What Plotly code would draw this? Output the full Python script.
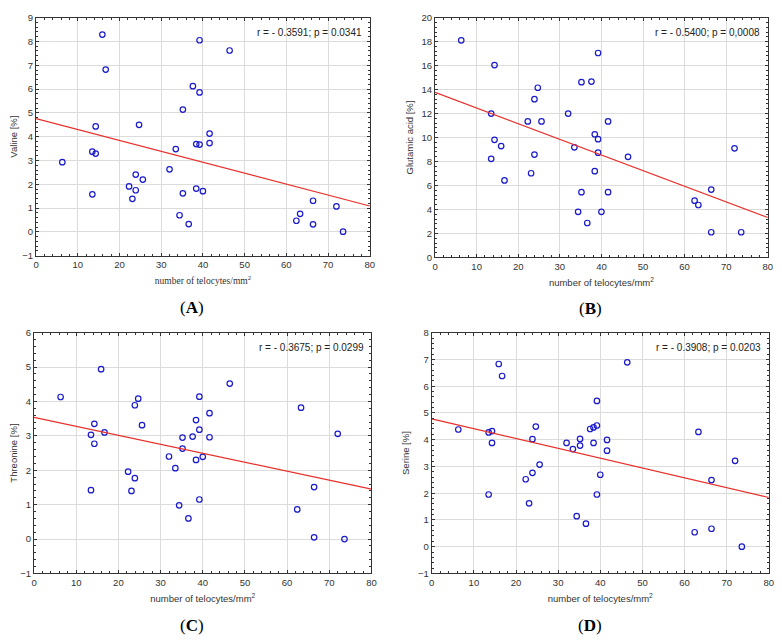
import plotly.graph_objects as go

# shared x values: number of telocytes/mm2
telocytes = [6.3, 13.5, 13.5, 14.3, 14.3, 15.9, 16.7, 22.3, 23.1, 23.9, 23.9, 24.7, 25.6,
             32.0, 33.5, 34.4, 35.2, 35.2, 36.6, 37.6, 38.4, 38.4, 39.2, 39.2, 39.2, 40.0,
             41.6, 41.6, 46.4, 62.4, 63.3, 66.4, 66.4, 72.0, 73.6]

valine = [2.93, 3.37, 1.58, 4.43, 3.29, 8.29, 6.82, 1.91, 1.39, 2.41, 1.75, 4.50, 2.20,
          2.63, 3.48, 0.70, 5.14, 1.62, 0.33, 6.12, 3.69, 1.82, 8.05, 5.86, 3.67, 1.71,
          4.13, 3.73, 7.62, 0.47, 0.76, 1.31, 0.32, 1.07, 0.01]

glutamic = [18.11, 12.0, 8.22, 16.04, 9.81, 9.29, 6.42, 11.34, 7.02, 13.2, 8.58, 14.15, 11.34,
            12.0, 9.18, 3.80, 14.62, 5.44, 2.87, 14.67, 10.27, 7.19, 17.05, 9.86, 8.74, 3.80,
            11.34, 5.44, 8.39, 4.73, 4.37, 5.66, 2.10, 9.10, 2.10]

threonine = [4.13, 3.03, 1.42, 3.35, 2.77, 4.94, 3.10, 1.96, 1.40, 3.89, 1.77, 4.08, 3.31,
             2.40, 2.06, 0.98, 2.95, 2.63, 0.60, 2.98, 3.46, 2.30, 4.14, 3.18, 1.15, 2.39,
             3.66, 2.96, 4.52, 0.86, 3.82, 1.51, 0.05, 3.06, 0.0]

serine = [4.38, 4.27, 1.95, 4.32, 3.88, 6.83, 6.38, 2.52, 1.62, 4.02, 2.76, 4.49, 3.07,
          3.88, 3.65, 1.14, 4.03, 3.78, 0.86, 4.40, 4.46, 3.88, 5.45, 4.53, 1.95, 2.69,
          3.99, 3.59, 6.89, 0.54, 4.29, 2.49, 0.67, 3.21, 0.0]

# regression line endpoints (x = 0 and x = 80)
fit_x = [0, 80]
fit_valine = [4.76, 1.09]
fit_glutamic = [13.77, 3.33]
fit_threonine = [3.54, 1.45]
fit_serine = [4.78, 1.84]

y_titles = ["Valine [%]", "Glutamic acid [%]", "Threonine [%]", "Serine [%]"]
stats = ["r = - 0.3591; p = 0.0341", "r = - 0.5400; p = 0,0008",
         "r = - 0.3675; p = 0.0299", "r = - 0.3908; p = 0.0203"]
panel_labels = ["A", "B", "C", "D"]
y_ranges = [[-1, 9], [0, 20], [-1, 6], [-1, 8]]
y_dticks = [1, 2, 1, 1]

series = [valine, glutamic, threonine, serine]
fits = [fit_valine, fit_glutamic, fit_threonine, fit_serine]

OFF = 8  # page body margin
W, H = 782 - OFF, 643 - OFF
# plot areas in page pixels: (x0, x1, ytop, ybottom)
areas = [(32.3, 370.0, 11.7, 254.0),
         (436.0, 772.7, 11.7, 255.7),
         (30.3, 371.7, 332.3, 577.3),
         (432.7, 773.7, 332.3, 577.3)]
label_pos = [(190, 307), (593, 308), (190, 630), (593, 630)]

fig = go.Figure()
sans = "Liberation Sans, Arial, sans-serif"
serif = "Liberation Serif, Times New Roman, serif"

def fx(px):
    return (px - OFF) / W

def fy(py):
    return 1 - (py - OFF) / H

for i in range(4):
    xa = "x" if i == 0 else f"x{i+1}"
    ya = "y" if i == 0 else f"y{i+1}"
    fig.add_trace(go.Scatter(x=telocytes, y=series[i], mode="markers", xaxis=xa, yaxis=ya,
                             marker=dict(symbol="circle-open", size=5.5, color="#1a1acc",
                                         line=dict(width=1.2, color="#1a1acc")),
                             showlegend=False, cliponaxis=False))
    fig.add_trace(go.Scatter(x=fit_x, y=fits[i], mode="lines", xaxis=xa, yaxis=ya,
                             line=dict(color="#e8302a", width=1.2), showlegend=False))
    x0, x1, yt, yb = areas[i]
    axis_common = dict(showline=True, linecolor="#333333", linewidth=1, mirror="ticks",
                       ticks="inside", ticklen=3, tickcolor="#333333",
                       showgrid=True, gridcolor="#dcdcdc", gridwidth=1, zeroline=False,
                       tickfont=dict(family=sans, size=9.5, color="#333333"))
    xtitle_font = dict(family=serif if i == 0 else sans, size=9.5, color="#333333")
    fig.layout[("xaxis" if i == 0 else f"xaxis{i+1}")] = dict(
        domain=[fx(x0), fx(x1)], anchor=ya, range=[0, 80], dtick=10,
        minor=dict(ticks="inside", ticklen=2, dtick=2, tickcolor="#333333", showgrid=False),
        title=dict(text="number of telocytes/mm<sup>2</sup>", font=xtitle_font, standoff=8),
        **axis_common)
    fig.layout[("yaxis" if i == 0 else f"yaxis{i+1}")] = dict(
        domain=[fy(yb), fy(yt)], anchor=xa, range=y_ranges[i], dtick=y_dticks[i],
        minor=dict(ticks="inside", ticklen=2, dtick=y_dticks[i] / 5, tickcolor="#333333",
                   showgrid=False),
        title=dict(text=y_titles[i], font=dict(family=sans, size=9.5, color="#333333"), standoff=6),
        **axis_common)
    fig.add_annotation(x=fx(x1 - 6), y=fy(yt + 15), xref="paper", yref="paper",
                       text=stats[i], showarrow=False, xanchor="right", yanchor="middle",
                       font=dict(family=sans, size=10, color="#222222"))
    lx, ly = label_pos[i]
    fig.add_annotation(x=fx(lx), y=fy(ly), xref="paper", yref="paper",
                       text=f"(<b>{panel_labels[i]}</b>)", showarrow=False,
                       xanchor="center", yanchor="middle",
                       font=dict(family=serif, size=17, color="#000000"))

fig.update_layout(width=W, height=H, margin=dict(l=0, r=0, t=0, b=0),
                  paper_bgcolor="white", plot_bgcolor="white")

fig.write_html("out.html")
